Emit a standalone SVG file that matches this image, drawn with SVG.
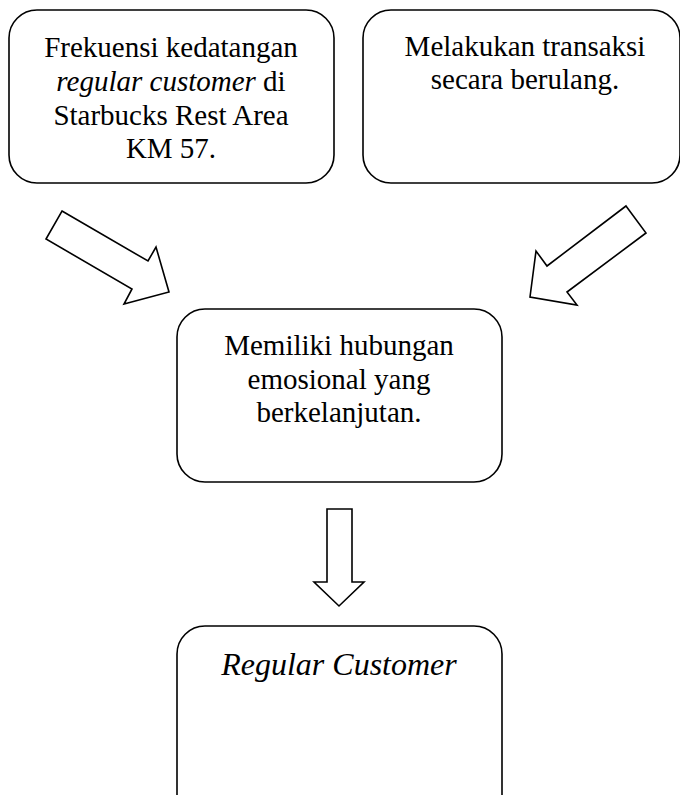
<svg xmlns="http://www.w3.org/2000/svg" width="680" height="795" viewBox="0 0 680 795">
<style>
.box{fill:#fff;stroke:#000;stroke-width:1.6}
.arr{fill:#fff;stroke:#000;stroke-width:1.6;stroke-linejoin:miter}
.t{font-family:"Liberation Serif","Times New Roman",serif;font-size:29px;fill:#000;text-anchor:middle}
.i{font-style:italic}
</style>
<rect width="680" height="795" fill="#fff"/>
<g id="node1">
<rect class="box" x="9" y="10" width="325" height="173" rx="28" ry="28"/>
<text class="t" x="171" y="57">Frekuensi kedatangan</text>
<text class="t" x="171" y="91"><tspan class="i">regular customer</tspan> di</text>
<text class="t" x="171" y="125">Starbucks Rest Area</text>
<text class="t" x="171" y="158">KM 57.</text>
</g>
<g id="node2">
<rect class="box" x="363" y="10" width="317" height="173" rx="28" ry="28"/>
<text class="t" x="525" y="56">Melakukan transaksi</text>
<text class="t" x="525" y="89">secara berulang.</text>
</g>
<g id="node3">
<rect class="box" x="177" y="309" width="325" height="173" rx="28" ry="28"/>
<text class="t" x="339" y="355">Memiliki hubungan</text>
<text class="t" x="339" y="388.5">emosional yang</text>
<text class="t" x="339" y="422">berkelanjutan.</text>
</g>
<g id="node4">
<rect class="box" x="177" y="626" width="325" height="200" rx="28" ry="28"/>
<text class="t i" x="339" y="675" style="font-size:32px">Regular Customer</text>
</g>
<g id="connectors">
<polygon class="arr" points="62,211 148,261 156,247 169,292 124,304 132,289 46,239"/>
<polygon class="arr" points="626,206 646,233 567,292 577,305 530,297 536,251 547,266"/>
<polygon class="arr" points="327,509 352,509 352,582 364,582 339,606 314,582 327,582"/>
</g>
</svg>
